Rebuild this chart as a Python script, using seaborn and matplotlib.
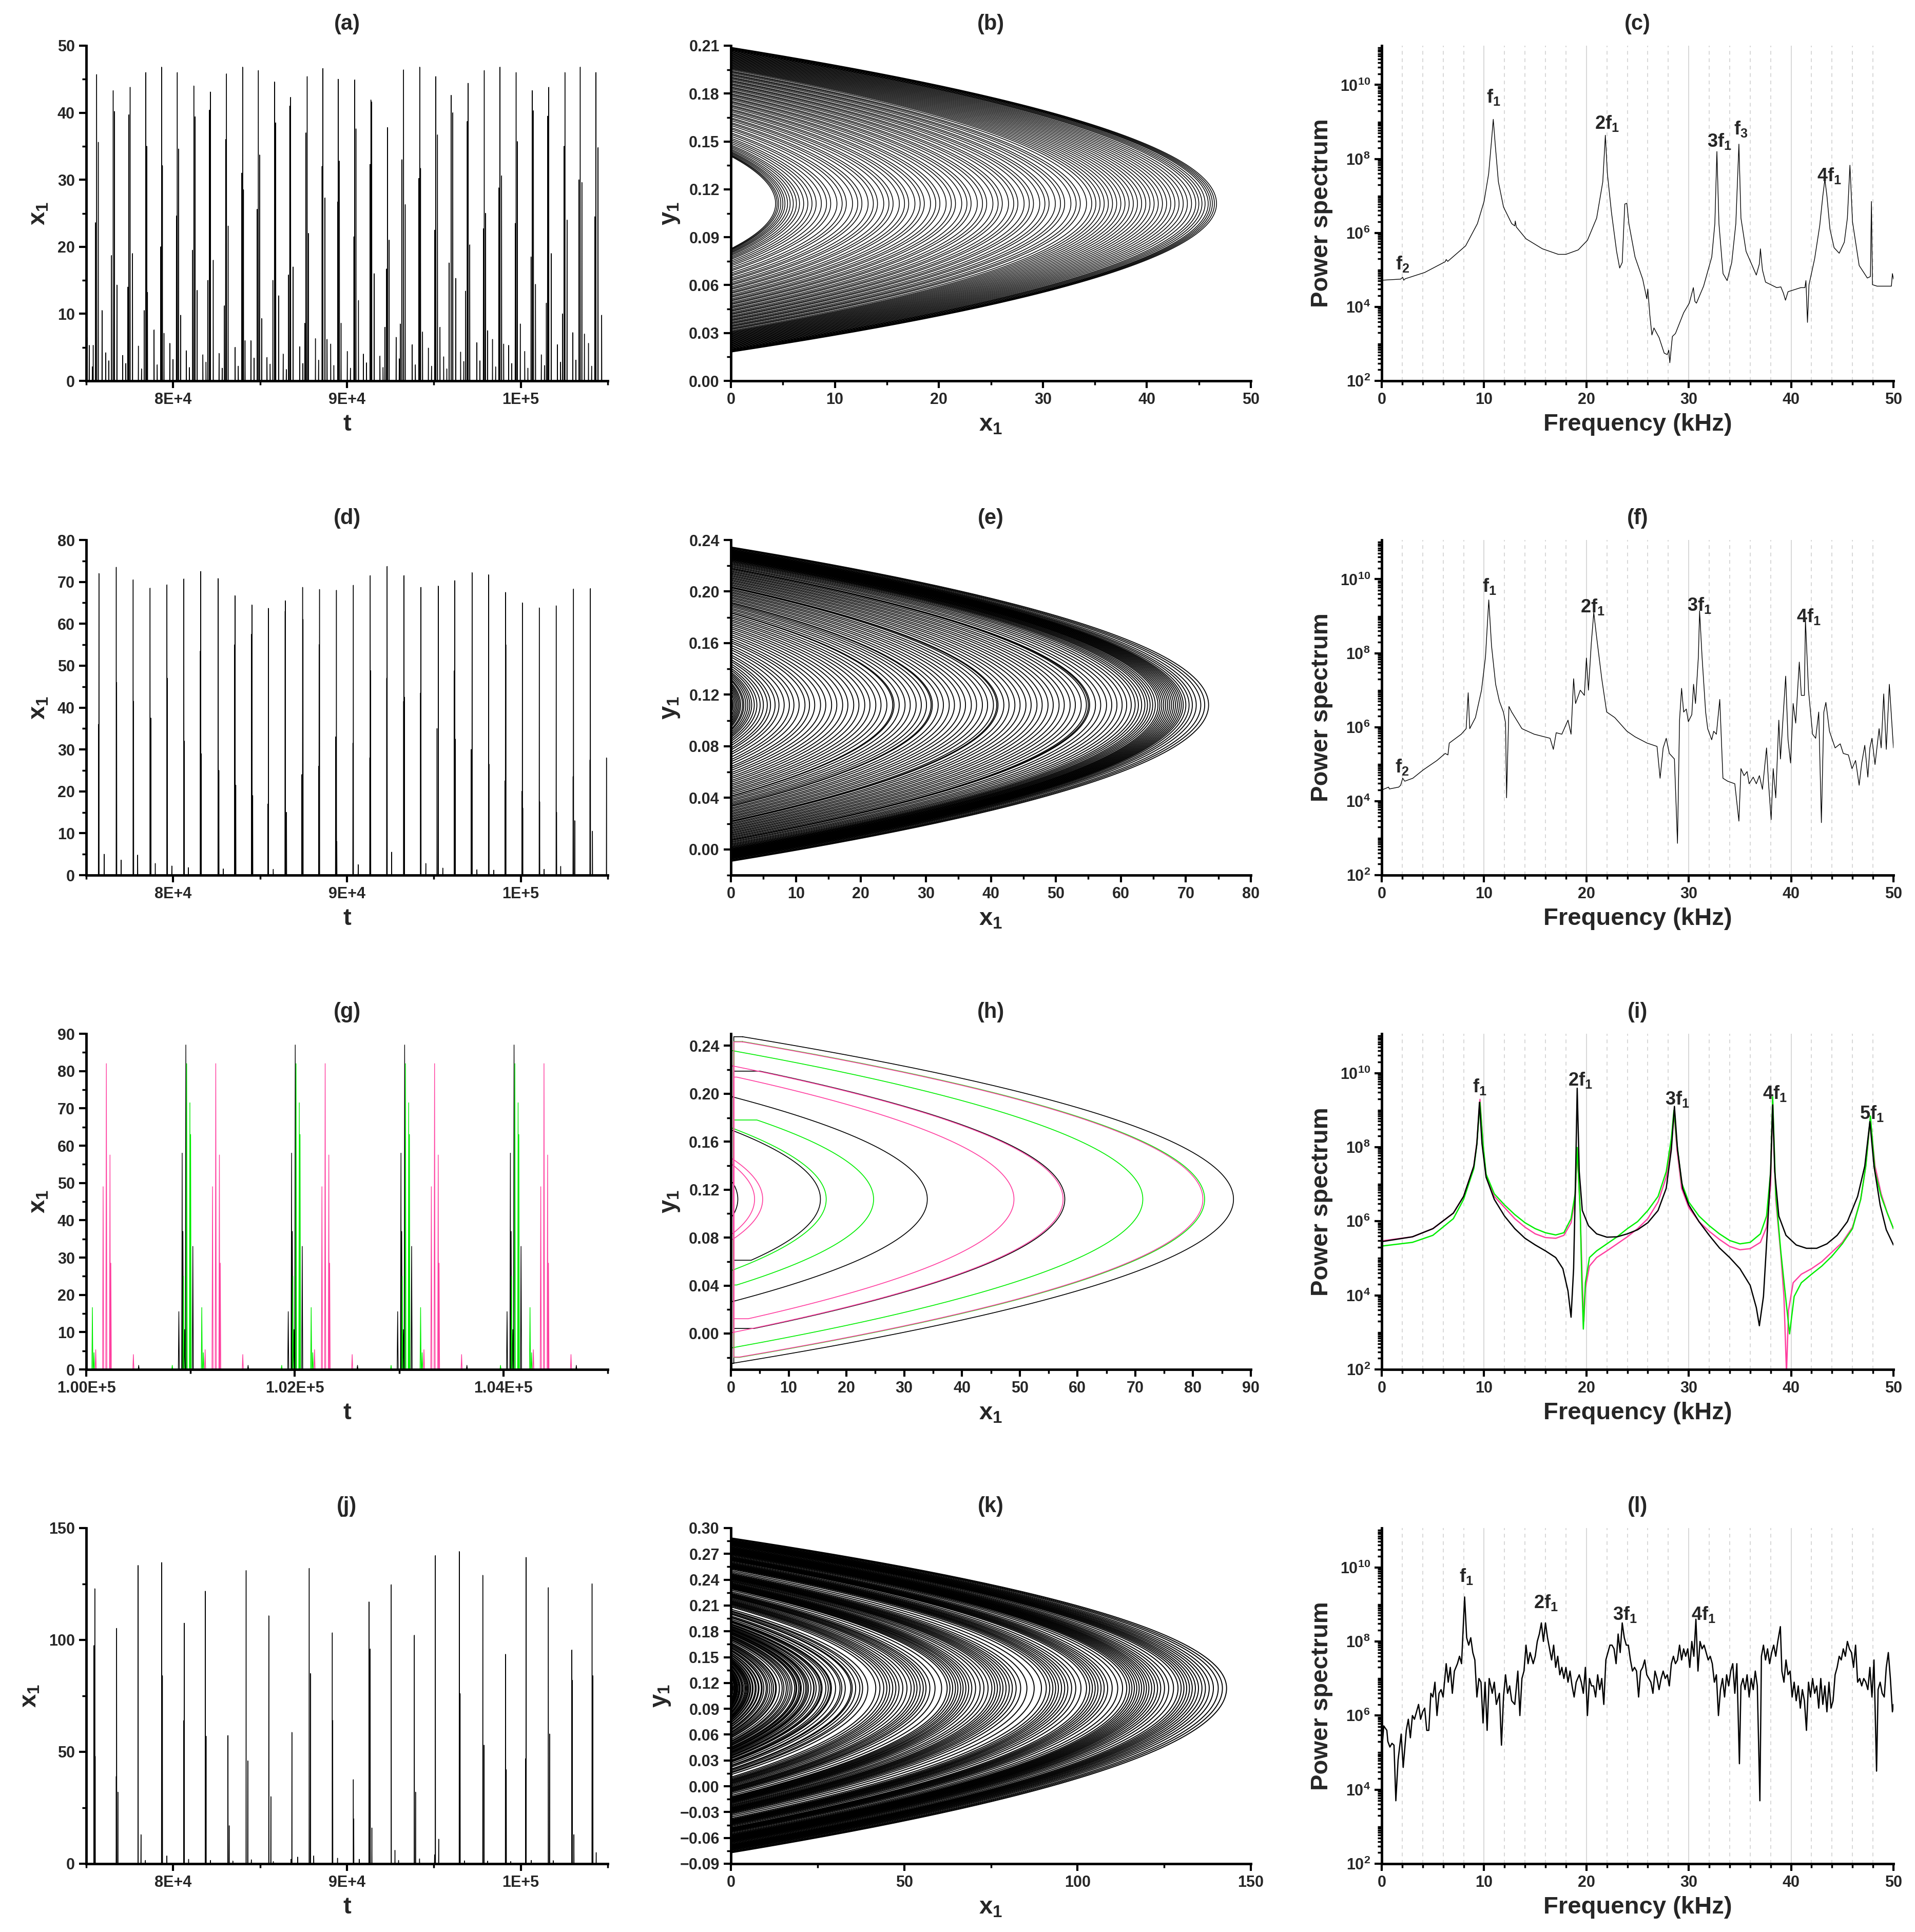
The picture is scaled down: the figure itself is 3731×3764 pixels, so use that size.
import numpy as np
import pandas as pd
import matplotlib
matplotlib.use("Agg")
import matplotlib.pyplot as plt
import seaborn as sns
from matplotlib.ticker import MultipleLocator, FixedLocator, FuncFormatter, NullFormatter

sns.set_theme(style="white")
plt.rcParams["font.family"] = ["Liberation Sans", "DejaVu Sans"]
plt.rcParams["font.weight"] = "bold"
plt.rcParams["mathtext.fontset"] = "custom"
plt.rcParams["mathtext.rm"] = "Liberation Sans:bold"
plt.rcParams["mathtext.it"] = "Liberation Sans:bold"
plt.rcParams["mathtext.bf"] = "Liberation Sans:bold"

BLACK, GREEN, PINK = "black", "#00ee00", "#ff3fa0"

# ---------------- (a) time series ----------------
a_t = [75600, 76550, 77525, 78430, 79334, 80238, 81190, 82142, 83070, 83998, 84903,
       85831, 86759, 87711, 88616, 89496, 90448, 91376, 92328, 93257, 94185, 95113,
       95994, 96969, 97898, 98802, 99730, 100658, 101610, 102539, 103419, 104324]
a_h = [45.7, 43.3, 43.8, 46.0, 46.8, 46.0, 44.0, 43.1, 45.8, 46.8, 46.3, 44.6, 42.3, 45.4,
       46.6, 45.0, 44.9, 41.9, 37.8, 46.4, 46.8, 45.4, 42.6, 44.4, 46.3, 46.8, 46.0, 43.3,
       43.8, 46.0, 46.8, 46.0]
a_sec_dt = [95, 70, -70, 50, 50, 70, 70, -50, -50, 50, 70, 70, -50, -70, 120, 70, 70, 50,
            -50, -95, 50, 95, 95, -50, 70, 95, 70, 70, -70, -50, 95, 120]
a_sec_h = [35.6, 40.2, 39.7, 35.0, 32.1, 34.6, 39.4, 40.4, 36.0, 28.5, 33.7, 38.5, 41.0, 37.0,
           27.3, 32.8, 37.6, 41.6, 16.7, 33.0, 31.7, 36.7, 40.0, 38.7, 25.0, 30.6, 35.7, 40.3,
           39.5, 35.0, 29.6, 34.8]
a_thr_dt = [-70, -95, -140, 95, -50, -50, -70, 165, 95, -50, -70, 240, 140, 70, -50, -30, -50,
            -50, 95, 95, -50, -70, 260, 95, -50, -70, -50, -70, 140, 120, -70, -70]
a_thr_h = [23.6, 18.7, 14.0, 13.2, 20.0, 24.6, 19.5, 18.0, 23.1, 31.0, 25.6, 12.7, 17.0, 22.0,
           32.0, 26.7, 21.5, 32.3, 21.0, 26.3, 30.2, 22.5, 15.3, 20.3, 22.7, 28.8, 23.5, 18.5,
           19.0, 24.0, 30.0, 24.5]
a_fth_dt = [310, 215, 140, -95, 140, 190, 190, -140, -120, 140, 190, -95, -120, -140, 240, 165,
            215, 190, -140, -190, 165, 240, -120, -140, 190, 215, 240, 190, -140, -140, 240, 330]
a_fth_h = [10.5, 14.3, 19.0, 10.5, 7.1, 9.8, 13.5, 15.0, 11.2, 6.0, 9.3, 15.0, 15.8, 8.6, 6.2,
           8.6, 12.0, 16.0, 8.0, 8.5, 7.3, 8.0, 17.6, 13.4, 7.5, 5.5, 8.5, 14.4, 11.6, 10.0,
           7.0, 9.8]
a_small_h1 = [5.3, 4.2, 3.8, 5.2, 7.6, 5.6, 4.5, 3.9, 4.1, 5.0, 6.0, 3.5, 4.0, 5.1, 6.3, 5.5,
              4.4, 4.0, 3.7, 6.5, 5.4, 4.9, 3.6, 4.3, 5.7, 6.2, 5.3, 4.4, 3.9, 5.4, 7.2, 5.6]
a_small_h2 = [2.1, 3.0, 2.6, 1.8, 2.4, 3.2, 2.0, 2.8, 1.9, 2.2, 3.4, 2.5, 1.7, 2.6, 3.1, 2.3,
              1.9, 2.7, 2.0, 3.3, 2.4, 2.2, 1.8, 2.9, 3.0, 2.1, 2.6, 1.9, 2.3, 2.8, 3.1, 2.2]
a_pre_t = [75050, 75400]
a_pre_h = [6.5, 5.3]

# ---------------- (d) time series ----------------
d_t = [75730, 76727, 77699, 78672, 79644, 80617, 81589, 82585, 83558, 84531, 85480, 86452,
       87448, 88421, 89393, 90366, 91338, 92311, 93283, 94256, 95252, 96201, 97197, 98146,
       99118, 100091, 101063, 102036, 103032, 104004, 104930]
d_h = [72.0, 73.5, 70.5, 68.5, 69.3, 70.7, 72.5, 70.8, 66.7, 64.5, 63.7, 65.5, 68.7, 68.2,
       68.0, 69.2, 71.5, 73.7, 71.5, 68.7, 69.0, 70.3, 72.2, 71.7, 67.5, 65.0, 63.8, 64.3,
       68.3, 68.4, 28.0]
d_sec_dt = [-24, 24, 24, 47, 24, 24, -24, 47, -24, -24, -24, -10, 24, -24, -47, -24, 24, -24,
            -24, -24, -71, -24, -47, 24, 24, -24, 24, 24, -24, -24, -24]
d_sec_h = [36, 46, 41.5, 37.5, 47, 32, 53.5, 25, 55, 57.5, 17, 63, 61, 55, 33, 31.5, 48.8, 47,
           41.5, 43.5, 35, 48.8, 30, 26.5, 55, 20, 17.5, 15, 23.5, 27.5, 0]
d_thr_dt = [300, 280, 260, 300, 280, 260, 24, 300, 47, 47, 280, 71, -47, -47, 24, 280, -24, 260,
            24, 280, 260, 24, 280, 300, -24, 24, 280, 260, 71, 120, 0]
d_thr_h = [5.0, 3.6, 4.8, 2.8, 2.2, 1.8, 29, 1.5, 21.5, 19, 1.4, 15, 24, 26, 8, 2.5, 28, 5.5,
           42.5, 2.8, 1.7, 32.5, 1.3, 1.2, 22.5, 16, 1.4, 2.1, 13, 10.5, 0]
d_pre_t = [75020]
d_pre_h = [6.3]

# ---------------- (g) three periodic solutions ----------------
g_black_t = [100955, 102004, 103053, 104102]
g_black_dt = [-67, -35, -28, -12, 0, 67]
g_black_ph = [15.5, 58, 37, 10.7, 87, 33]
g_black_bump_t = [100503, 101552, 102601, 103650, 104699]
g_green_t = [99914, 100963, 102012, 103061, 104110]
g_green_dt = [-31, 0, 31, 38, 145, 160]
g_green_ph = [25, 82, 71.5, 63, 16.6, 4.5]
g_green_bump_t = [100825, 101874, 102923, 103972]
g_pink_t = [100193, 101242, 102291, 103340, 104389]
g_pink_dt = [-102, -31, 0, 35, 43, 259]
g_pink_ph = [5.3, 49, 82, 57.5, 28.5, 4.0]

# ---------------- (j) time series ----------------
j_t = [75493, 76750, 77984, 79336, 80640, 81850, 83155, 84198, 85503, 86831, 87828, 89156,
       90366, 91267, 92548, 93876, 95086, 96462, 97814, 99118, 100304, 101585, 102937, 104100]
j_h = [122.9, 105.2, 133.3, 134.6, 107.5, 121.8, 57.3, 131.0, 110.8, 58.7, 132.0, 103.2,
       37.6, 117.0, 124.7, 102.1, 137.7, 139.5, 128.9, 93.6, 136.9, 123.4, 95.5, 125.1]
j_sec_dt = [-47, -24, 166, 47, -24, 47, 71, 95, 118, 330, 71, 24, 24, 71, 213, 71, 190, 47,
            71, 47, -24, 71, 24, 47]
j_sec_h = [97.5, 39, 13, 84, 64, 57, 17, 46, 30, 3, 85, 64, 20, 96, 6, 32, 11, 76, 53, 42,
           47, 58, 82, 84]
j_thr_dt = [24, 71, 420, 300, 250, 300, 280, 300, 260, -47, 260, 300, 340, 166, 420, 300, -47,
            300, 280, 300, 300, 280, 118, 237]
j_thr_h = [48, 32, 1.5, 3.5, 2.0, 1.5, 1.2, 1.8, 1.0, 2.0, 3.5, 2.5, 2.0, 16, 1.5, 2.2, 4,
           1.3, 1.2, 1.0, 1.5, 1.4, 13, 5]

# ---------------- phase portraits: loop nose positions x_max ----------------
b_xmax = [4.3, 4.45, 4.6, 4.8, 5.0, 5.2, 5.45, 5.7, 6.0, 6.3, 6.6, 7.0, 7.4, 7.8, 8.2, 8.7,
          9.2, 9.6, 10.2, 10.7, 11.1, 11.7, 12.2, 12.6, 13.2, 13.7, 14.1, 14.7, 15.2, 15.6,
          16.2, 16.7, 17.1, 17.7, 18.2, 18.6, 19.2, 19.7, 20.1, 20.7, 21.2, 21.6, 22.2, 22.7,
          23.1, 23.7, 24.2, 24.6, 25.2, 25.7, 26.1, 26.7, 27.2, 27.6, 28.2, 28.7, 29.1, 29.7,
          30.2, 30.6, 31.2, 31.7, 32.1, 32.7, 33.2, 33.6, 34.2, 34.7, 35.1, 35.5, 35.9, 36.3,
          36.7, 37.1, 37.5, 37.9, 38.3, 38.7, 39.1, 39.5, 39.9, 40.3, 40.7, 41.1, 41.5, 41.9,
          42.3, 42.7, 43.1, 43.5, 43.9, 44.3, 44.7, 45.0, 45.3, 45.6, 45.9, 46.1, 46.3, 46.5,
          46.7]
e_xmax = [0.3, 0.5, 0.7, 0.9, 1.1, 1.3, 1.5, 1.8, 2.0, 2.3, 2.6, 2.9, 3.2, 3.6, 4.0, 4.5, 5.0,
          5.6, 6.1, 6.8, 7.4, 8.2, 9.0, 9.7, 10.5, 11.4, 12.1, 12.9, 13.8, 14.6, 15.5, 16.3,
          17.2, 18.0, 18.9, 19.7, 20.6, 21.4, 22.3, 23.1, 24.0, 24.9, 25.1, 25.9, 26.8, 27.6,
          28.5, 29.3, 30.1, 30.8, 31.0, 31.9, 32.7, 33.6, 34.4, 35.3, 36.1, 37.0, 37.8, 38.7,
          39.5, 40.4, 40.9, 41.1, 42.0, 42.8, 43.7, 44.5, 45.4, 46.2, 47.1, 47.9, 48.8, 49.6,
          50.5, 51.3, 52.2, 53.0, 53.9, 54.7, 55.0, 55.2, 56.1, 56.9, 57.8, 58.6, 59.4, 60.2,
          60.9, 61.6, 62.2, 62.7, 63.2, 63.7, 64.1, 64.5, 64.9, 65.3, 65.7, 66.0, 66.3, 66.6,
          66.9, 67.2, 67.5, 67.8, 68.1, 68.4, 68.7, 69.0, 69.3, 69.6, 70.0, 70.5, 71.0, 71.6,
          72.3, 72.9, 73.5]
k_xmax = [0.3, 0.5, 0.6, 0.9, 1.0, 1.2, 1.4, 1.6, 1.8, 2.0, 2.3, 2.5, 2.7, 3.1, 3.3, 3.6, 4.0,
          4.3, 4.6, 4.9, 5.1, 5.5, 5.7, 6.2, 6.4, 7.0, 7.3, 7.9, 8.1, 8.8, 9.0, 9.5, 10.2, 10.6,
          11.2, 11.8, 12.3, 12.9, 13.1, 14.0, 14.8, 15.3, 16.0, 16.5, 17.1, 17.6, 18.4, 18.8,
          19.0, 19.6, 20.0, 20.3, 21.0, 21.6, 22.0, 22.4, 23.1, 23.9, 24.0, 24.6, 25.5, 26.0,
          26.3, 27.4, 28.1, 28.7, 29.0, 30.2, 31.5, 32.0, 33.0, 34.6, 35.0, 36.0, 37.2, 38.0,
          39.5, 41.8, 43.0, 44.1, 45.0, 45.8, 46.7, 47.6, 48.5, 49.6, 50.8, 52.0, 52.9, 53.7,
          54.6, 55.5, 56.3, 57.4, 58.9, 60.8, 62.4, 63.2, 64.0, 64.8, 65.5, 66.3, 67.0, 67.8,
          68.6, 69.5, 70.6, 71.9, 73.0, 74.2, 75.3, 76.1, 76.9, 77.7, 78.5, 79.4, 80.3, 81.2,
          82.3, 83.6, 85.4, 87.5, 89.6, 91.0, 92.0, 92.9, 93.7, 94.5, 95.4, 96.3, 97.2, 98.3,
          99.5, 101.0, 102.6, 103.5, 104.3, 105.1, 105.9, 106.8, 107.7, 108.7, 110.0, 111.6,
          113.0, 114.2, 115.0, 115.7, 116.4, 117.1, 117.8, 118.5, 119.2, 119.9, 120.6, 121.4,
          122.2, 123.1, 124.0, 125.1, 126.3, 127.7, 129.0, 129.9, 130.7, 131.5, 132.3, 133.1,
          134.0, 134.9, 135.9, 136.9, 138.0, 139.2, 140.6, 141.8, 143.0]
# (h): loops of each periodic orbit, with x where the top branch starts / bottom ends
h_black_xmax = [87.0, 57.8, 34.0, 15.5, 1.2]
h_black_xs = [2.0, 5.0, 0.3, 0.3, 0.3]
h_black_xe = [0.3, 4.0, 0.3, 3.5, 0.3]
h_green_xmax = [82.0, 71.3, 24.7, 16.5]
h_green_xs = [2.0, 0.3, 4.5, 0.3]
h_green_xe = [1.5, 0.3, 1.0, 0.3]
h_pink_xmax = [81.7, 57.5, 49.0, 5.5, 4.1]
h_pink_xs = [2.0, 0.3, 1.0, 0.3, 0.3]
h_pink_xe = [1.5, 0.3, 3.0, 0.3, 0.3]

# ---------------- spectra (frequency in kHz, log10 of power) ----------------
c_f = [0.0, 1.85, 2.05, 2.15, 2.3, 4.2, 6.2, 6.3, 6.45, 8.2, 9.35, 10.0, 10.45, 10.73, 10.9,
       11.1, 11.4, 11.9, 12.7, 13.0, 13.05, 13.15, 14.1, 15.7, 17.25, 18.0, 19.2, 20.1, 21.0,
       21.6, 21.85, 22.05, 22.45, 22.95, 23.25, 23.5, 23.75, 23.95, 24.15, 24.75, 25.5, 25.9,
       26.0, 26.2, 26.4, 26.6, 27.1, 27.6, 27.9, 28.05, 28.15, 28.4, 28.7, 29.5, 30.05, 30.45,
       30.6, 30.75, 31.45, 32.25, 32.55, 32.75, 32.95, 33.35, 33.75, 34.2, 34.6, 34.9, 35.1,
       35.6, 36.6, 36.9, 37.0, 37.2, 37.5, 38.6, 39.0, 39.25, 39.45, 39.7, 40.95, 41.35, 41.45,
       41.6, 41.75, 42.3, 42.8, 43.1, 43.3, 43.5, 43.8, 44.2, 44.7, 45.2, 45.5, 45.75, 46.0,
       46.65, 47.45, 47.75, 47.85, 47.95, 48.4, 49.8, 49.9, 50.0]
c_p = [4.72, 4.75, 4.80, 4.72, 4.76, 4.93, 5.22, 5.28, 5.23, 5.65, 6.25, 6.85, 7.6, 8.5, 9.07,
       8.36, 7.38, 6.7, 6.25, 6.19, 6.32, 6.16, 5.84, 5.57, 5.42, 5.42, 5.54, 5.8, 6.4, 7.38,
       8.64, 7.6, 6.55, 5.5, 5.05, 5.2, 6.78, 6.8, 6.25, 5.35, 4.75, 4.22, 4.48, 3.77, 3.24,
       3.43, 3.17, 2.75, 2.71, 2.83, 2.49, 3.2, 3.28, 3.84, 4.1, 4.52, 4.15, 4.1, 4.56, 5.35,
       6.25, 8.2, 6.25, 4.9, 4.71, 5.2, 6.25, 8.4, 6.4, 5.5, 4.86, 5.16, 5.57, 5.0, 4.67, 4.52,
       4.54, 4.37, 4.18, 4.41, 4.52, 4.52, 4.71, 3.58, 4.6, 5.3, 6.2, 7.0, 7.45, 7.0, 6.1, 5.6,
       5.45, 5.75, 6.4, 7.83, 6.3, 5.12, 4.78, 4.82, 6.85, 4.6, 4.56, 4.56, 4.9, 4.75]

f_f = [0.0, 0.67, 0.75, 1.66, 1.85, 2.05, 2.25, 3.04, 4.03, 5.4, 6.2, 6.47, 6.6, 7.77, 8.25,
       8.45, 8.6, 9.16, 9.75, 10.14, 10.46, 10.73, 11.13, 11.5, 11.9, 12.1, 12.2, 12.43, 12.7,
       13.7, 14.9, 16.45, 16.77, 17.05, 17.6, 18.2, 18.5, 18.75, 18.94, 19.4, 19.8, 20.0,
       20.2, 20.48, 20.72, 21.0, 21.5, 21.98, 22.77, 23.96, 24.75, 25.93, 26.9, 27.2, 27.5,
       27.8, 28.1, 28.6, 28.9, 29.1, 29.3, 29.5, 29.76, 29.96, 30.3, 30.47, 30.66, 30.94,
       31.06, 31.3, 31.65, 31.85, 32.24, 32.44, 32.7, 33.03, 33.34, 33.8, 34.5, 34.9, 35.1,
       35.4, 35.7, 35.9, 36.3, 36.6, 36.9, 37.2, 37.6, 37.8, 38.05, 38.25, 38.5, 38.8, 38.96,
       39.47, 39.7, 39.95, 40.2, 40.45, 40.8, 41.0, 41.3, 41.4, 41.7, 42.1, 42.4, 42.7, 42.96,
       43.2, 43.4, 43.75, 44.3, 44.8, 45.1, 45.6, 45.95, 46.3, 46.65, 46.9, 47.2, 47.5, 47.7,
       47.9, 48.2, 48.6, 48.8, 49.05, 49.3, 49.6, 50.0]
f_p = [4.30, 4.38, 4.33, 4.38, 4.43, 4.62, 4.54, 4.62, 4.84, 5.1, 5.29, 5.25, 5.57, 5.81, 5.96,
       6.93, 5.96, 6.26, 7.0, 7.9, 9.44, 8.2, 7.16, 6.7, 6.4, 6.11, 4.09, 6.56, 6.41, 5.96,
       5.81, 5.7, 5.4, 5.85, 5.81, 6.19, 5.81, 7.31, 6.64, 7.0, 6.86, 7.87, 7.0, 8.28, 9.1,
       8.43, 7.31, 6.41, 6.26, 5.89, 5.74, 5.57, 5.48, 4.62, 5.44, 5.7, 5.29, 5.14, 2.86,
       6.19, 7.05, 6.41, 6.49, 6.15, 6.34, 7.16, 6.64, 7.9, 9.14, 7.9, 6.41, 5.96, 5.66, 5.89,
       5.81, 6.75, 4.62, 4.54, 4.47, 3.46, 4.88, 4.69, 4.8, 4.47, 4.65, 4.47, 4.69, 4.32, 5.44,
       4.47, 3.5, 4.88, 4.09, 6.19, 5.14, 7.38, 5.66, 5.03, 6.64, 6.11, 7.76, 6.86, 6.86, 8.92,
       7.0, 5.81, 5.7, 6.41, 3.42, 6.41, 6.67, 5.89, 5.44, 5.55, 5.29, 5.25, 4.88, 5.1, 4.43,
       5.03, 5.51, 4.65, 5.44, 5.7, 4.99, 5.96, 5.44, 6.9, 5.4, 7.16, 5.44]

i_black_f = [0, 3, 5, 7, 8, 9, 9.3, 9.55, 9.8, 10.2, 11, 12, 13, 14, 15, 16, 17, 17.7, 18.2,
             18.5, 18.75, 18.95, 19.1, 19.3, 19.6, 20.2, 21, 22, 23, 24, 25, 26, 27, 27.8, 28.3,
             28.6, 28.9, 29.4, 30, 31, 32, 33, 34, 35, 36, 36.6, 36.9, 37.3, 37.7, 38.0, 38.2,
             38.4, 38.8, 39.5, 40.5, 41.5, 42.5, 43.5, 44.5, 45.5, 46.5, 47.2, 47.7, 48.1, 48.7,
             49.3, 50]
i_black_p = [5.45, 5.58, 5.8, 6.22, 6.67, 7.49, 8.09, 9.21, 8.09, 7.19, 6.59, 6.14, 5.8, 5.54,
             5.36, 5.2, 5.02, 4.72, 4.12, 3.41, 4.72, 7.34, 9.59, 7.34, 6.29, 5.88, 5.66, 5.57,
             5.58, 5.66, 5.77, 5.96, 6.29, 6.89, 7.94, 9.1, 7.94, 6.89, 6.44, 5.99, 5.62, 5.28,
             5.02, 4.72, 4.27, 3.67, 3.18, 3.97, 5.84, 7.34, 9.14, 7.34, 6.14, 5.62, 5.36, 5.27,
             5.27, 5.39, 5.62, 5.99, 6.67, 7.49, 8.69, 7.49, 6.44, 5.77, 5.36]
i_pink_f = [0, 3, 5, 7, 8, 9, 9.3, 9.6, 9.9, 10.2, 11, 12, 13, 14, 15, 16, 17, 17.8, 18.5, 18.9,
            19.1, 19.4, 19.6, 19.75, 19.9, 20.3, 21, 22, 23, 24, 25, 26, 27, 27.8, 28.3, 28.55,
            28.85, 29.3, 30, 31, 32, 33, 34, 35, 36, 37, 37.6, 38.0, 38.2, 38.5, 39.0, 39.3,
            39.55, 39.75, 40.2, 41, 42, 43, 44, 45, 46, 46.8, 47.3, 47.75, 48.2, 48.8, 49.4, 50]
i_pink_p = [5.47, 5.58, 5.8, 6.22, 6.67, 7.49, 8.15, 9.29, 8.09, 7.19, 6.67, 6.37, 6.07, 5.84,
            5.66, 5.56, 5.54, 5.62, 5.96, 6.59, 7.95, 6.22, 4.34, 3.3, 4.19, 4.79, 5.02, 5.2,
            5.39, 5.58, 5.8, 6.07, 6.52, 7.19, 8.09, 8.91, 7.94, 6.89, 6.37, 5.99, 5.73, 5.51,
            5.32, 5.23, 5.26, 5.43, 5.84, 6.97, 9.3, 6.59, 5.09, 3.97, 1.9, 3.6, 4.34, 4.57,
            4.72, 4.91, 5.17, 5.43, 5.84, 6.59, 7.49, 8.76, 7.49, 6.74, 6.22, 5.8]
i_green_f = [0, 3, 5, 7, 8, 9, 9.3, 9.6, 9.9, 10.2, 11, 12, 13, 14, 15, 16, 17, 17.8, 18.5,
             18.9, 19.1, 19.4, 19.55, 19.7, 19.9, 20.3, 21, 22, 23, 24, 25, 26, 27, 27.8, 28.3,
             28.55, 28.85, 29.3, 30, 31, 32, 33, 34, 35, 36, 37, 37.6, 38.0, 38.2, 38.5, 39.0,
             39.4, 39.85, 40.3, 41, 42, 43, 44, 45, 46, 46.8, 47.3, 47.75, 48.2, 48.8, 49.4, 50]
i_green_p = [5.33, 5.43, 5.62, 6.07, 6.59, 7.42, 8.09, 9.21, 8.09, 7.27, 6.74, 6.44, 6.18, 5.96,
             5.8, 5.69, 5.63, 5.69, 6.07, 6.74, 7.99, 6.22, 4.4, 3.09, 4.34, 5.02, 5.2, 5.39,
             5.58, 5.8, 5.99, 6.29, 6.67, 7.34, 8.24, 8.99, 8.09, 7.04, 6.52, 6.14, 5.88, 5.66,
             5.48, 5.39, 5.43, 5.66, 6.14, 7.34, 9.36, 6.74, 5.17, 4.12, 2.96, 3.97, 4.34, 4.57,
             4.79, 5.06, 5.39, 5.8, 6.59, 7.49, 8.84, 7.34, 6.67, 6.22, 5.8]

l_f = [0.0, 0.2, 0.5, 0.6, 0.8, 1.0, 1.2, 1.38, 1.6, 1.9, 2.1, 2.4, 2.6, 2.8, 3.0, 3.2, 3.4,
       3.6, 3.8, 4.0, 4.2, 4.4, 4.6, 4.8, 5.0, 5.2, 5.4, 5.6, 5.8, 6.0, 6.3, 6.5, 6.7, 6.9, 7.1,
       7.4, 7.6, 7.8, 8.1, 8.3, 8.5, 8.7, 8.9, 9.1, 9.3, 9.5, 9.7, 9.9, 10.1, 10.3, 10.5, 10.8,
       11.0, 11.2, 11.5, 11.7, 11.9, 12.1, 12.3, 12.5, 12.7, 13.0, 13.3, 13.5, 13.7, 13.9, 14.1,
       14.3, 14.5, 14.8, 15.0, 15.2, 15.4, 15.6, 15.8, 16.0, 16.2, 16.4, 16.6, 16.8, 17.0, 17.2,
       17.4, 17.6, 17.8, 18.0, 18.2, 18.4, 18.6, 18.8, 19.0, 19.3, 19.5, 19.7, 19.9, 20.1, 20.3,
       20.5, 20.7, 20.9, 21.1, 21.3, 21.5, 21.7, 21.9, 22.1, 22.3, 22.5, 22.7, 22.9, 23.1, 23.3,
       23.5, 23.7, 23.9, 24.1, 24.3, 24.5, 24.7, 24.9, 25.1, 25.3, 25.5, 25.7, 25.9, 26.1, 26.3,
       26.5, 26.7, 26.9, 27.1, 27.3, 27.5, 27.7, 27.9, 28.1, 28.3, 28.5, 28.7, 28.9, 29.1, 29.3,
       29.5, 29.7, 29.9, 30.1, 30.3, 30.5, 30.7, 30.9, 31.1, 31.3, 31.5, 31.7, 31.9, 32.1, 32.3,
       32.5, 32.7, 32.9, 33.1, 33.3, 33.5, 33.7, 33.9, 34.1, 34.3, 34.5, 34.7, 34.95, 35.1, 35.3,
       35.5, 35.7, 35.9, 36.1, 36.3, 36.5, 36.7, 36.95, 37.1, 37.3, 37.5, 37.7, 37.9, 38.1, 38.3,
       38.5, 38.7, 38.95, 39.1, 39.3, 39.5, 39.7, 39.9, 40.1, 40.3, 40.5, 40.7, 40.9, 41.1, 41.3,
       41.5, 41.7, 41.9, 42.1, 42.3, 42.5, 42.7, 42.9, 43.1, 43.3, 43.5, 43.7, 43.9, 44.1, 44.3,
       44.5, 44.7, 44.9, 45.1, 45.3, 45.5, 45.7, 45.9, 46.1, 46.3, 46.5, 46.7, 46.9, 47.1, 47.3,
       47.5, 47.7, 47.9, 48.1, 48.35, 48.5, 48.7, 48.9, 49.1, 49.3, 49.5, 49.7, 49.9, 50.0]
l_p = [5.0, 5.72, 5.6, 5.3, 5.15, 5.25, 5.2, 3.7, 4.8, 5.5, 4.6, 5.6, 5.9, 5.4, 6.0, 5.9, 6.1,
       6.3, 5.9, 6.1, 6.2, 5.6, 5.6, 6.6, 6.5, 6.9, 6.0, 6.6, 6.7, 6.5, 7.4, 6.9, 7.3, 6.6, 7.2,
       7.4, 7.6, 7.4, 9.2, 8.1, 7.9, 8.1, 7.7, 7.5, 6.5, 7.0, 6.9, 5.8, 6.9, 5.6, 7.0, 6.6, 6.9,
       6.3, 6.6, 5.2, 6.5, 7.1, 6.6, 6.8, 6.4, 6.3, 7.2, 6.0, 7.0, 7.2, 7.9, 7.4, 7.7, 7.4, 7.6,
       8.0, 8.2, 8.5, 8.0, 8.5, 8.1, 7.8, 7.5, 7.9, 7.3, 7.6, 7.1, 7.3, 7.0, 7.3, 6.9, 7.2, 6.8,
       6.5, 6.9, 7.1, 6.9, 6.6, 7.3, 6.0, 7.0, 6.8, 6.8, 6.5, 7.1, 6.7, 7.0, 6.3, 7.5, 7.7, 7.9,
       7.9, 7.8, 7.4, 8.2, 7.7, 8.5, 8.1, 7.9, 7.9, 7.5, 7.2, 7.3, 7.2, 6.5, 7.2, 7.3, 7.5, 7.1,
       7.0, 6.9, 6.6, 7.2, 7.0, 6.7, 7.0, 7.2, 7.0, 7.1, 6.8, 7.4, 7.6, 7.4, 7.5, 7.9, 7.5, 7.8,
       7.6, 7.8, 7.3, 8.0, 7.6, 8.6, 7.2, 8.0, 7.8, 7.9, 7.7, 7.5, 7.6, 7.4, 6.9, 7.1, 6.0, 6.7,
       7.0, 6.5, 7.1, 6.8, 7.2, 7.4, 6.6, 7.4, 4.7, 6.8, 7.0, 6.7, 7.1, 6.5, 7.0, 6.7, 7.2, 6.8,
       3.7, 7.6, 7.9, 7.5, 7.8, 7.4, 7.7, 7.9, 7.6, 8.0, 8.4, 7.2, 6.9, 7.5, 7.1, 7.2, 6.5, 6.9,
       6.4, 6.8, 6.2, 6.7, 6.4, 5.6, 6.9, 6.5, 7.0, 6.6, 6.8, 6.2, 7.0, 6.3, 6.8, 6.1, 6.9, 6.2,
       6.4, 7.1, 7.3, 7.6, 7.5, 7.8, 7.6, 8.0, 7.8, 7.7, 7.3, 7.9, 6.9, 7.0, 6.8, 7.0, 6.9, 6.7,
       7.3, 6.5, 7.5, 4.5, 6.7, 6.9, 6.6, 6.5, 7.3, 7.7, 7.0, 6.1, 6.3]

# annotation labels and positions (kHz, log10 power)
c_lab = [("$f_2$", 2.05, 5.16), ("$f_1$", 10.9, 9.67), ("$2f_1$", 22.0, 8.96),
         ("$3f_1$", 33.0, 8.47), ("$f_3$", 35.1, 8.8), ("$4f_1$", 43.7, 7.55)]
f_lab = [("$f_2$", 1.97, 4.92), ("$f_1$", 10.5, 9.81), ("$2f_1$", 20.6, 9.25),
         ("$3f_1$", 31.05, 9.29), ("$4f_1$", 41.7, 8.99)]
i_lab = [("$f_1$", 9.55, 9.63), ("$2f_1$", 19.4, 9.81), ("$3f_1$", 28.85, 9.29),
         ("$4f_1$", 38.4, 9.44), ("$5f_1$", 47.9, 8.91)]
l_lab = [("$f_1$", 8.25, 9.75), ("$2f_1$", 16.05, 9.04), ("$3f_1$", 23.75, 8.72),
         ("$4f_1$", 31.45, 8.72)]

TICK_FS, LABEL_FS, TITLE_FS, ANN_FS = 22, 34, 30, 26


def spike_frame(times, heights, hw, t0, t1):
    pts = [(t0, 0.0), (t1, 0.0)]
    for t, h in zip(times, heights):
        if h > 0:
            pts += [(t - hw, 0.0), (t, h), (t + hw, 0.0)]
    df = pd.DataFrame(pts, columns=["t", "x1"])
    return df.sort_values("t", kind="stable").reset_index(drop=True)


def bursts(main_t, main_h, extras):
    ts, hs = list(main_t), list(main_h)
    for dts, hh in extras:
        for t, dt, h in zip(main_t, dts, hh):
            ts.append(t + dt)
            hs.append(h)
    return ts, hs


def periodic(main_t, pat_dt, pat_h):
    ts, hs = [], []
    for t in main_t:
        for dt, h in zip(pat_dt, pat_h):
            ts.append(t + dt)
            hs.append(h)
    return ts, hs


def loop_frame(xmax, yc, kt, kb, xs=None, xe=None, connect=False, x_conn=0.5, n=220):
    xs = xs if xs is not None else [0.0] * len(xmax)
    xe = xe if xe is not None else [0.0] * len(xmax)
    rows = []
    s = np.linspace(1.0, -1.0, n)
    for i, xm in enumerate(xmax):
        yt = yc + kt * np.sqrt(xm - xs[i])
        yb = yc - kb * np.sqrt(xm - xe[i])
        y = np.where(s >= 0, yc + s * (yt - yc), yc + s * (yc - yb))
        k = np.where(y >= yc, kt, kb)
        x = xm - ((y - yc) / k) ** 2
        unit = 0 if connect else i
        rows.append(pd.DataFrame({"x": x, "y": y, "loop": unit}))
        if connect:
            nxt = (i + 1) % len(xmax)
            yt_n = yc + kt * np.sqrt(xmax[nxt] - xs[nxt])
            rows.append(pd.DataFrame({"x": [x_conn, x_conn, xs[nxt]],
                                      "y": [yb, yt_n, yt_n], "loop": unit}))
    return pd.concat(rows, ignore_index=True)


def base_style(ax, title, xlabel, ylabel):
    sns.despine(ax=ax)
    for side in ("left", "bottom"):
        ax.spines[side].set_linewidth(3.5)
        ax.spines[side].set_color("black")
    ax.tick_params(which="major", direction="out", length=10, width=3, labelsize=TICK_FS,
                   color="black", left=True, bottom=True, pad=6)
    ax.tick_params(which="minor", direction="out", length=6, width=2.5, color="black",
                   left=True, bottom=True)
    for lab in ax.get_xticklabels() + ax.get_yticklabels():
        lab.set_fontweight("bold")
    ax.set_title(title, fontsize=TITLE_FS, fontweight="bold", pad=22)
    ax.set_xlabel(xlabel, fontsize=LABEL_FS, fontweight="bold", labelpad=8)
    ax.set_ylabel(ylabel, fontsize=LABEL_FS, fontweight="bold", labelpad=10)
    ax.grid(False)


def dec_fmt(nd):
    def f(v, pos):
        s = f"{v:.{nd}f}"
        if float(s) == 0:
            s = f"{0:.{nd}f}"
        return s.replace("-", "\u2212")
    return FuncFormatter(f)


def time_axes(ax, title, t0, t1, ymax, ystep, ymin_step, major, labels, minor):
    ax.set_xlim(t0, t1)
    ax.set_ylim(0, ymax)
    ax.xaxis.set_major_locator(FixedLocator(major))
    ax.set_xticklabels(labels)
    ax.xaxis.set_minor_locator(FixedLocator(minor))
    ax.yaxis.set_major_locator(MultipleLocator(ystep))
    ax.yaxis.set_minor_locator(MultipleLocator(ymin_step))
    base_style(ax, title, "t", "x$_1$")


def phase_axes(ax, title, xmax, xstep, xminor, ylim, ystep, yminor, nd=2):
    ax.set_xlim(0, xmax)
    ax.set_ylim(*ylim)
    ax.xaxis.set_major_locator(MultipleLocator(xstep))
    ax.xaxis.set_minor_locator(MultipleLocator(xminor))
    ax.yaxis.set_major_locator(MultipleLocator(ystep))
    ax.yaxis.set_minor_locator(MultipleLocator(yminor))
    ax.yaxis.set_major_formatter(dec_fmt(nd))
    base_style(ax, title, "x$_1$", "y$_1$")


def spectrum_axes(ax, title, labels):
    ax.set_yscale("log")
    ax.set_xlim(0, 50)
    ax.set_ylim(1e2, 1.15e11)
    ax.xaxis.set_major_locator(MultipleLocator(10))
    ax.xaxis.set_minor_locator(MultipleLocator(2))
    majors = [1e2, 1e4, 1e6, 1e8, 1e10]
    ax.yaxis.set_major_locator(FixedLocator(majors))
    ax.yaxis.set_major_formatter(FuncFormatter(lambda v, p: "$10^{%d}$" % round(np.log10(v))))
    minors = [m * 10.0 ** e for e in range(2, 12) for m in range(1, 10)
              if m * 10.0 ** e not in majors and m * 10.0 ** e <= 1.15e11]
    ax.yaxis.set_minor_locator(FixedLocator(minors))
    ax.yaxis.set_minor_formatter(NullFormatter())
    ax.grid(False)
    for xv in range(2, 50, 2):
        ls = "-" if xv % 10 == 0 else (0, (4, 4))
        ax.axvline(xv, color="#d4d4d4", lw=1.3, ls=ls, zorder=0)
    base_style(ax, title, "Frequency (kHz)", "Power spectrum")
    for txt, x, lp in labels:
        ax.text(x, 10 ** lp, txt, fontsize=ANN_FS, fontweight="bold", ha="center",
                va="center", zorder=5)


def draw_spec(ax, f, p, color, lw):
    df = pd.DataFrame({"f": f, "P": np.power(10.0, p)})
    sns.lineplot(data=df, x="f", y="P", sort=False, estimator=None, color=color, lw=lw,
                 ax=ax, legend=False)


W, H = 3731, 3764
fig = plt.figure(figsize=(W / 100, H / 100), dpi=100)
cols = [(168, 1016), (1424, 1013), (2692, 997)]
rows = [(89, 742), (1052, 1705), (2014, 2668), (2977, 3631)]


def make_ax(r, c):
    l, w = cols[c]
    top, bot = rows[r]
    return fig.add_axes([l / W, 1 - bot / H, w / W, (bot - top) / H])


ts_major = [80000, 90000, 100000]
ts_labels = ["8E+4", "9E+4", "1E+5"]
ts_minor = [75000, 85000, 95000, 105000]

# (a)
ax = make_ax(0, 0)
ta, ha = bursts(a_t, a_h, [(a_sec_dt, a_sec_h), (a_thr_dt, a_thr_h), (a_fth_dt, a_fth_h),
                           ([-430] * len(a_t), a_small_h1), ([-250] * len(a_t), a_small_h2)])
ta += a_pre_t
ha += a_pre_h
sns.lineplot(data=spike_frame(ta, ha, 9, 75000, 105000), x="t", y="x1", sort=False,
             estimator=None, color=BLACK, lw=1.0, ax=ax)
time_axes(ax, "(a)", 75000, 105000, 50, 10, 5, ts_major, ts_labels, ts_minor)

# (d)
ax = make_ax(1, 0)
td, hd = bursts(d_t, d_h, [(d_sec_dt, d_sec_h), (d_thr_dt, d_thr_h)])
td += d_pre_t
hd += d_pre_h
sns.lineplot(data=spike_frame(td, hd, 9, 75000, 105000), x="t", y="x1", sort=False,
             estimator=None, color=BLACK, lw=1.0, ax=ax)
time_axes(ax, "(d)", 75000, 105000, 80, 10, 5, ts_major, ts_labels, ts_minor)

# (g)
ax = make_ax(2, 0)
for main_t, pdt, ph, bump_t, col in [
        (g_black_t, g_black_dt, g_black_ph, g_black_bump_t, BLACK),
        (g_green_t, g_green_dt, g_green_ph, g_green_bump_t, GREEN),
        (g_pink_t, g_pink_dt, g_pink_ph, [], PINK)]:
    tt, hh = periodic(main_t, pdt, ph)
    df = spike_frame(tt + bump_t, hh + [1.1] * len(bump_t), 5, 100000, 105000)
    sns.lineplot(data=df, x="t", y="x1", sort=False, estimator=None, color=col, lw=1.0, ax=ax)
time_axes(ax, "(g)", 100000, 105000, 90, 10, 5, [100000, 102000, 104000],
          ["1.00E+5", "1.02E+5", "1.04E+5"], [101000, 103000, 105000])

# (j)
ax = make_ax(3, 0)
tj, hj = bursts(j_t, j_h, [(j_sec_dt, j_sec_h), (j_thr_dt, j_thr_h)])
sns.lineplot(data=spike_frame(tj, hj, 9, 75000, 105000), x="t", y="x1", sort=False,
             estimator=None, color=BLACK, lw=1.0, ax=ax)
time_axes(ax, "(j)", 75000, 105000, 150, 50, 25, ts_major, ts_labels, ts_minor)

# (b)
ax = make_ax(0, 1)
sns.lineplot(data=loop_frame(b_xmax, 0.111, 0.01434, 0.01361), x="x", y="y", units="loop",
             estimator=None, sort=False, color=BLACK, lw=1.1, ax=ax, legend=False)
phase_axes(ax, "(b)", 50, 10, 5, (0, 0.21), 0.03, 0.015)

# (e)
ax = make_ax(1, 1)
sns.lineplot(data=loop_frame(e_xmax, 0.112, 0.0143, 0.01415), x="x", y="y", units="loop",
             estimator=None, sort=False, color=BLACK, lw=1.3, ax=ax, legend=False)
phase_axes(ax, "(e)", 80, 10, 5, (-0.02, 0.24), 0.04, 0.02)

# (h)
ax = make_ax(2, 1)
for xm, xs, xe, col in [(h_black_xmax, h_black_xs, h_black_xe, BLACK),
                        (h_green_xmax, h_green_xs, h_green_xe, GREEN),
                        (h_pink_xmax, h_pink_xs, h_pink_xe, PINK)]:
    sns.lineplot(data=loop_frame(xm, 0.112, 0.0147, 0.0147, xs, xe, connect=True),
                 x="x", y="y", units="loop", estimator=None, sort=False, color=col, lw=1.2,
                 ax=ax, legend=False)
phase_axes(ax, "(h)", 90, 10, 5, (-0.03, 0.25), 0.04, 0.02)

# (k)
ax = make_ax(3, 1)
sns.lineplot(data=loop_frame(k_xmax, 0.114, 0.0146, 0.0160), x="x", y="y", units="loop",
             estimator=None, sort=False, color=BLACK, lw=1.4, ax=ax, legend=False)
phase_axes(ax, "(k)", 150, 50, 25, (-0.09, 0.30), 0.03, 0.015)

# spectra
ax = make_ax(0, 2)
draw_spec(ax, c_f, c_p, BLACK, 1.0)
spectrum_axes(ax, "(c)", c_lab)

ax = make_ax(1, 2)
draw_spec(ax, f_f, f_p, BLACK, 1.0)
spectrum_axes(ax, "(f)", f_lab)

ax = make_ax(2, 2)
draw_spec(ax, i_pink_f, i_pink_p, PINK, 1.8)
draw_spec(ax, i_green_f, i_green_p, GREEN, 1.8)
draw_spec(ax, i_black_f, i_black_p, BLACK, 1.8)
spectrum_axes(ax, "(i)", i_lab)

ax = make_ax(3, 2)
draw_spec(ax, l_f, l_p, BLACK, 1.8)
spectrum_axes(ax, "(l)", l_lab)

fig.savefig("out.png", dpi=100)
